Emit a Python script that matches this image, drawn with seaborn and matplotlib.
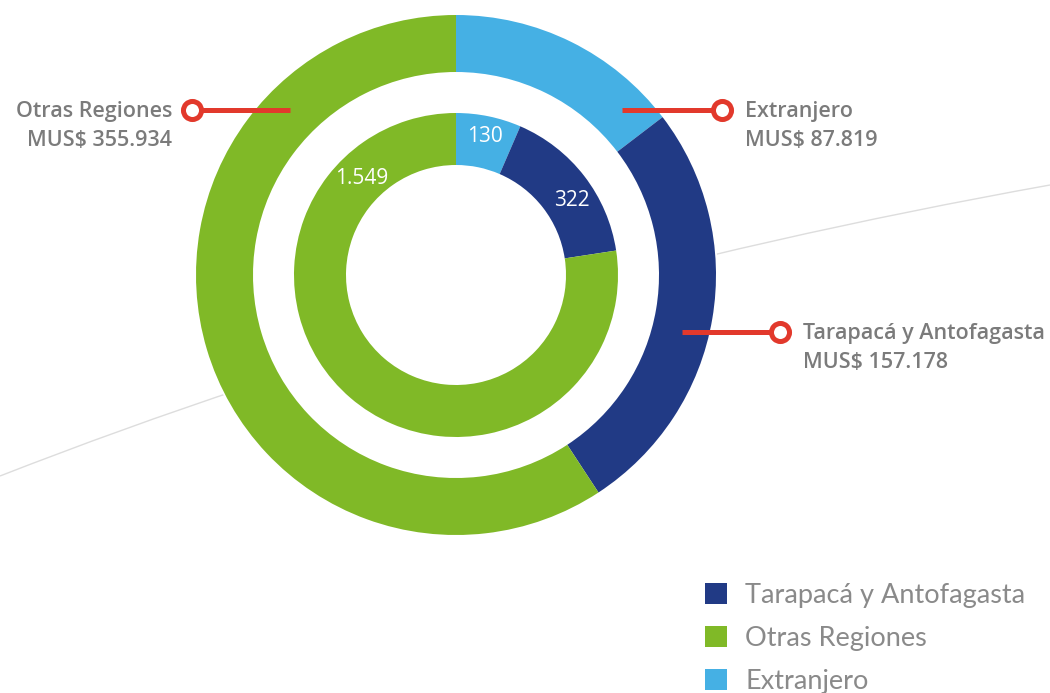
import matplotlib
matplotlib.use("Agg")
from matplotlib import pyplot as plt
from matplotlib.patches import Patch, Circle, PathPatch
from matplotlib.path import Path
import seaborn as sns

# data
regiones = ["Tarapacá y Antofagasta", "Otras Regiones", "Extranjero"]
outer_names = ["Extranjero", "Tarapacá y Antofagasta", "Otras Regiones"]
outer_values = [87819, 157178, 355934]
outer_labels = ["MUS$ 87.819", "MUS$ 157.178", "MUS$ 355.934"]
inner_names = ["Extranjero", "Tarapacá y Antofagasta", "Otras Regiones"]
inner_values = [130, 322, 1549]
inner_labels = ["130", "322", "1.549"]

sns.set_theme(style="white")
plt.rcParams['font.family'] = ['Open Sans', 'DejaVu Sans']

colores = dict(zip(regiones, sns.color_palette(["#213a85", "#80b927", "#45b0e4"])))
rojo = "#e2392c"
gris = "#7b7b7b"

H = 693
def Y(y):
    # pixel row -> data y (y up)
    return H - y

fig = plt.figure(figsize=(10.5, 6.93), dpi=100)
ax = fig.add_axes([0, 0, 1, 1])

cx, cy = 456, Y(275)

# faint background curve
curva = Path([(0, Y(476)), (486, Y(286)), (1050, Y(185))],
             [Path.MOVETO, Path.CURVE3, Path.CURVE3])
ax.add_patch(PathPatch(curva, fill=False, edgecolor="#dddddd", lw=1.0, zorder=0))
ax.add_patch(Circle((cx, cy), 261, color="white", zorder=1))

ax.pie(outer_values, radius=260, center=(cx, cy), startangle=90, counterclock=False,
       colors=[colores[n] for n in outer_names], frame=True,
       wedgeprops=dict(width=57, linewidth=0, zorder=2))
ax.pie(inner_values, radius=162, center=(cx, cy), startangle=90, counterclock=False,
       colors=[colores[n] for n in inner_names], frame=True,
       wedgeprops=dict(width=52, linewidth=0, zorder=2))

# inner ring values
pos_inner = [(485, 136), (572, 201), (362, 179)]
for txt, (x, y) in zip(inner_labels, pos_inner):
    ax.text(x, Y(y), txt, color="white", fontsize=15, ha="center", va="center", zorder=5)

# callouts for the outer ring
callouts = [
    ("Otras Regiones", outer_labels[2], 290, 192, 110, "right", 172),
    ("Extranjero", outer_labels[0], 622, 722, 110, "left", 745),
    ("Tarapacá y Antofagasta", outer_labels[1], 682, 780, 332, "left", 803),
]
for nombre, monto, x0, x1, y, ha, xt in callouts:
    ax.plot([x0, x1], [Y(y), Y(y)], color=rojo, lw=3.6, solid_capstyle="butt", zorder=4)
    ax.plot([x1], [Y(y)], marker="o", markersize=13, markerfacecolor="white",
            markeredgecolor=rojo, markeredgewidth=3.6, zorder=5)
    ax.text(xt, Y(y + 2), nombre, color=gris, fontsize=15.5, fontweight="semibold",
            ha=ha, va="center")
    ax.text(xt, Y(y + 30), monto, color=gris, fontsize=15.5, fontweight="semibold",
            ha=ha, va="center")

handles = [Patch(facecolor=colores[n], edgecolor="none", label=n) for n in regiones]
leg = ax.legend(handles=handles, loc="upper left", bbox_to_anchor=(705, Y(583)),
                bbox_transform=ax.transData, frameon=False,
                handlelength=0.82, handleheight=0.82, handletextpad=0.67,
                labelspacing=0.66, borderpad=0, borderaxespad=0,
                prop=dict(family=["Lato", "DejaVu Sans"], weight="normal", size=19.5))
for t in leg.get_texts():
    t.set_color("#8a8a8a")

ax.set_xlim(0, 1050)
ax.set_ylim(0, H)
ax.set_aspect("equal")
ax.axis("off")

fig.savefig("out.png", dpi=100, facecolor="white")
